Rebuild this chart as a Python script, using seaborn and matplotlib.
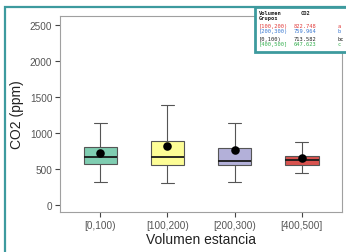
import matplotlib
matplotlib.use("Agg")
import matplotlib.pyplot as plt
from matplotlib.patches import Rectangle
import seaborn as sns
import pandas as pd
import numpy as np

# ---- data ----
groups = ["[0,100)", "[100,200)", "[200,300)", "[400,500]"]
# five-number summaries: min, Q1, median, Q3, max
g0 = [315, 570, 662, 800, 1140]
g1 = [305, 556, 662, 892, 1390]
g2 = [315, 548, 612, 787, 1138]
g3 = [447, 556, 625, 685, 878]
means = [713.582, 822.748, 759.964, 647.623]
colors = ["#7fcdb1", "#fdfd96", "#b3b0d9", "#d9534f"]

tbl_groups = ["[100,200)", "[200,300)", "[0,100)", "[400,500]"]
tbl_means = ["822.748", "759.964", "713.582", "647.623"]
tbl_letters = ["a", "b", "bc", "c"]
tbl_colors = ["#e03a3a", "#3a78d0", "#222222", "#35b050"]

rows = []
for g, vals in zip(groups, [g0, g1, g2, g3]):
    for v in vals:
        rows.append({"grp": g, "co2": v})
df = pd.DataFrame(rows)
mdf = pd.DataFrame({"grp": groups, "co2": means})

sns.set_theme(style="white")
plt.rcParams["font.family"] = ["Liberation Sans", "DejaVu Sans"]

W, H = 346, 253
fig = plt.figure(figsize=(W / 100, H / 100), dpi=100)
ax = fig.add_axes([60 / W, 1 - 213 / H, (342 - 60) / W, (213 - 17) / H])

sns.boxplot(data=df, x="grp", y="co2", hue="grp", palette=colors, legend=False,
            order=groups, width=0.5, whis=(0, 100), linecolor="#555555",
            linewidth=0.8, saturation=1, ax=ax,
            medianprops=dict(color="#1a1a1a", linewidth=1.3))

# narrow the whisker caps a little
for ln in ax.lines:
    xd = np.asarray(ln.get_xdata(), dtype=float)
    yd = np.asarray(ln.get_ydata(), dtype=float)
    if len(xd) == 2 and yd[0] == yd[1] and abs(xd[1] - xd[0]) < 0.3:
        c = xd.mean()
        ln.set_xdata([c - 0.1, c + 0.1])

sns.scatterplot(data=mdf, x="grp", y="co2", color="black", s=38, ax=ax,
                zorder=5, edgecolor="black", linewidth=0)

ax.set_xlim(-0.6, 3.6)
ax.set_ylim(-100, 2625)
ax.set_yticks([0, 500, 1000, 1500, 2000, 2500])
for sp in ax.spines.values():
    sp.set_color("#a0a0a0")
    sp.set_linewidth(0.8)
ax.tick_params(axis="both", which="both", length=3.5, width=0.8,
               color="#444444", labelcolor="#555555", labelsize=7.2, pad=2,
               left=True, bottom=True)
ax.set_xlabel("Volumen estancia", fontsize=10, color="#222222", labelpad=2)
ax.set_ylabel("CO2 (ppm)", fontsize=10, color="#222222", labelpad=4)

teal = "#3d9a9e"
# outer frame
fig.patches.append(Rectangle((5 / W, -0.1), 1.2, 1 - 8 / H + 0.1,
                             transform=fig.transFigure, fill=False,
                             edgecolor=teal, linewidth=1.6, zorder=1))
# table inset
fig.patches.append(Rectangle((255 / W, 1 - 53 / H), 1.2, (53 - 8) / H,
                             transform=fig.transFigure, facecolor="white",
                             edgecolor=teal, linewidth=2.0, zorder=2))

fs = 3.9
mono = ["DejaVu Sans Mono"]
fig.text(259 / W, 1 - 13.5 / H, "Volumen", fontsize=fs, family=mono,
         fontweight="bold", color="#222222", va="center", zorder=3)
fig.text(301 / W, 1 - 13.5 / H, "CO2", fontsize=fs, family=mono,
         fontweight="bold", color="#222222", va="center", zorder=3)
fig.text(259 / W, 1 - 18.5 / H, "Grupos", fontsize=fs, family=mono,
         fontweight="bold", color="#222222", va="center", zorder=3)
ys = [26.7, 32, 39.7, 44.7]
for yv, gname, mv, let, c in zip(ys, tbl_groups, tbl_means, tbl_letters, tbl_colors):
    fig.text(259 / W, 1 - yv / H, gname, fontsize=fs, family=mono, color=c,
             va="center", zorder=3)
    fig.text(294 / W, 1 - yv / H, mv, fontsize=fs, family=mono, color=c,
             va="center", zorder=3)
    fig.text(338 / W, 1 - yv / H, let, fontsize=fs, family=mono, color=c,
             va="center", zorder=3)

fig.savefig("out.png", dpi=100)
